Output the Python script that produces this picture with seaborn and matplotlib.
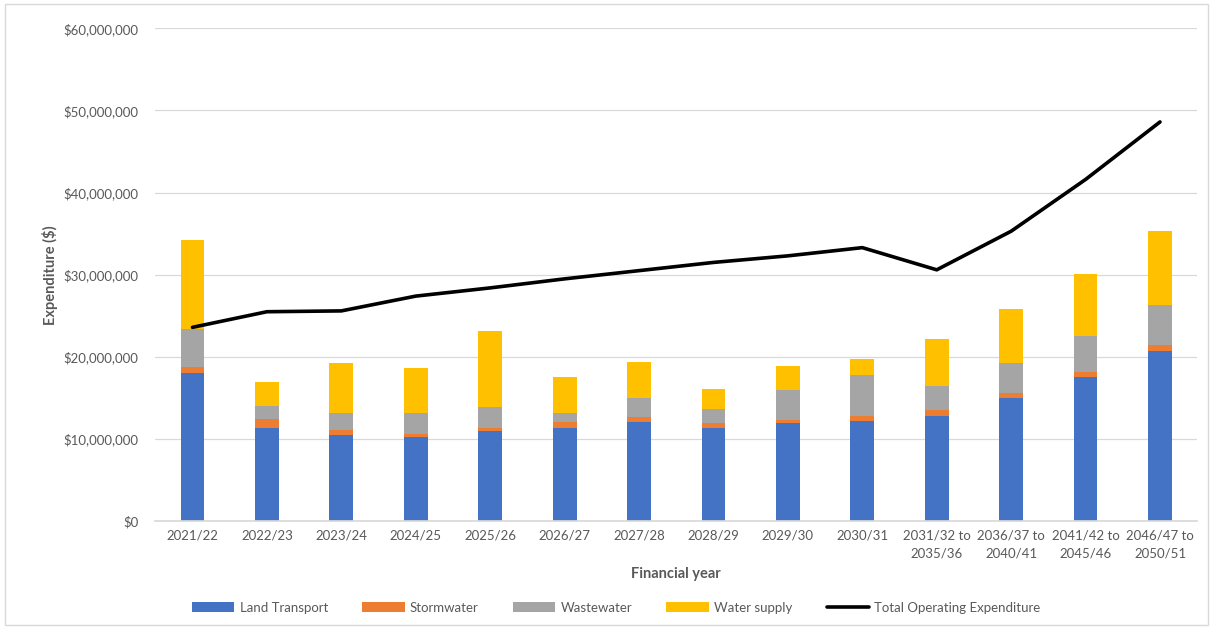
import numpy as np
import pandas as pd
import matplotlib
matplotlib.use("Agg")
import matplotlib.pyplot as plt
import seaborn as sns
from matplotlib.ticker import FuncFormatter, MultipleLocator
from matplotlib.patches import Patch, Rectangle
from matplotlib.lines import Line2D

# Financial years and operating expenditure by activity ($)
years = ["2021/22", "2022/23", "2023/24", "2024/25", "2025/26", "2026/27",
         "2027/28", "2028/29", "2029/30", "2030/31",
         "2031/32 to\n2035/36", "2036/37 to\n2040/41",
         "2041/42 to\n2045/46", "2046/47 to\n2050/51"]
land_transport = [18.0e6, 11.4e6, 10.5e6, 10.2e6, 11.0e6, 11.4e6, 12.1e6,
                  11.4e6, 11.9e6, 12.2e6, 12.85e6, 15.0e6, 17.6e6, 20.7e6]
stormwater = [0.8e6, 1.1e6, 0.55e6, 0.4e6, 0.4e6, 0.7e6, 0.6e6,
              0.5e6, 0.45e6, 0.65e6, 0.65e6, 0.6e6, 0.6e6, 0.7e6]
wastewater = [4.6e6, 1.5e6, 2.15e6, 2.6e6, 2.5e6, 1.1e6, 2.3e6,
              1.8e6, 3.65e6, 4.95e6, 3.0e6, 3.6e6, 4.3e6, 4.9e6]
water_supply = [10.8e6, 3.0e6, 6.0e6, 5.4e6, 9.3e6, 4.4e6, 4.4e6,
                2.4e6, 2.9e6, 1.9e6, 5.7e6, 6.6e6, 7.6e6, 9.0e6]
total_opex = [23.6e6, 25.5e6, 25.6e6, 27.4e6, 28.4e6, 29.5e6, 30.5e6,
              31.5e6, 32.3e6, 33.3e6, 30.6e6, 35.3e6, 41.6e6, 48.6e6]

series_names = ["Land Transport", "Stormwater", "Wastewater", "Water supply"]
series_colors = ["#4472C4", "#ED7D31", "#A5A5A5", "#FFC000"]
text_color = "#595959"
grid_color = "#D9D9D9"

df = pd.DataFrame({
    "year": years,
    "Land Transport": land_transport,
    "Stormwater": stormwater,
    "Wastewater": wastewater,
    "Water supply": water_supply,
    "total": total_opex,
})

sns.set_theme(style="white")
plt.rcParams["font.family"] = ["Lato", "DejaVu Sans"]

fig = plt.figure(figsize=(12.13, 6.28), dpi=100)
ax = fig.add_axes([0.128, 0.170, 0.859, 0.785])

# Stacked bars: draw cumulative heights from the top segment down
cum = df[series_names].cumsum(axis=1)
for name, color in reversed(list(zip(series_names, series_colors))):
    sns.barplot(data=cum.assign(year=df["year"]), x="year", y=name,
                color=color, width=0.32, saturation=1, ax=ax, zorder=2,
                linewidth=0)

# Total operating expenditure line
sns.lineplot(x=np.arange(len(years)), y=df["total"], color="black",
             linewidth=2.6, ax=ax, zorder=3, sort=False)

ax.set_xlim(-0.5, len(years) - 0.5)
ax.set_ylim(0, 60e6)
ax.yaxis.set_major_locator(MultipleLocator(10e6))
ax.yaxis.set_major_formatter(FuncFormatter(lambda v, p: f"${v:,.0f}"))
ax.grid(axis="y", color=grid_color, linewidth=0.9, zorder=0)
ax.set_axisbelow(True)
for side in ["top", "right", "left"]:
    ax.spines[side].set_visible(False)
ax.spines["bottom"].set_color(grid_color)
ax.tick_params(axis="both", length=0, labelsize=9.5, colors=text_color)
ax.tick_params(axis="y", pad=12)
ax.tick_params(axis="x", pad=6)
ax.set_xticks(range(len(years)))
ax.set_xticklabels(years, linespacing=1.55)

ax.set_xlabel("Financial year", fontsize=10.5, fontweight="bold",
              color=text_color, labelpad=6)
ax.set_ylabel("Expenditure ($)", fontsize=10.5, fontweight="bold",
              color=text_color, labelpad=4)

handles = [Patch(facecolor=c, edgecolor="none") for c in series_colors]
handles.append(Line2D([0], [0], color="black", linewidth=2.6))
fig.legend(handles, series_names + ["Total Operating Expenditure"],
           loc="center", bbox_to_anchor=(0.508, 0.032), ncol=5,
           frameon=False, fontsize=9.5, labelcolor=text_color,
           handlelength=3.2, handleheight=0.8, columnspacing=2.6,
           handletextpad=0.4)

# Thin border around the whole chart area
fig.patches.append(Rectangle((0.004, 0.004), 0.992, 0.99,
                             transform=fig.transFigure, fill=False,
                             edgecolor=grid_color, linewidth=1))

fig.savefig("out.png", dpi=100)
